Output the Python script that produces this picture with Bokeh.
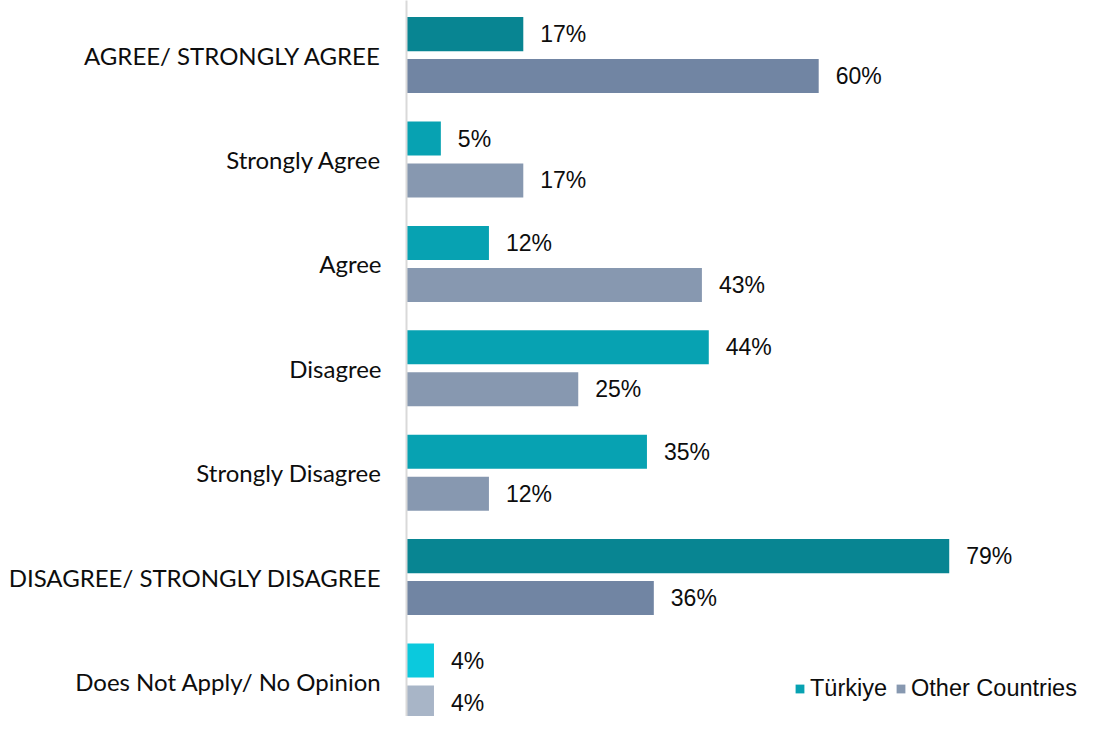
from bokeh.plotting import figure
from bokeh.models import ColumnDataSource, Range1d, FixedTicker, Legend, LegendItem
from bokeh.transform import dodge
from bokeh.embed import file_html
from bokeh.resources import INLINE

categories = ["AGREE/ STRONGLY AGREE", "Strongly Agree", "Agree", "Disagree",
              "Strongly Disagree", "DISAGREE/ STRONGLY DISAGREE", "Does Not Apply/ No Opinion"]
turkiye = [17, 5, 12, 44, 35, 79, 4]
other = [60, 17, 43, 25, 12, 36, 4]
series_names = ["Türkiye", "Other Countries"]

turk_colors = ["#088592", "#07A2B2", "#07A2B2", "#07A2B2", "#07A2B2", "#088592", "#0BC9DD"]
other_colors = ["#7185A3", "#8798B0", "#8798B0", "#8798B0", "#8798B0", "#7185A3", "#A8B5C7"]

pos = list(range(len(categories)))
src_t = ColumnDataSource(dict(y=pos, v=turkiye, c=turk_colors, lbl=[f"{v}%" for v in turkiye]))
src_o = ColumnDataSource(dict(y=pos, v=other, c=other_colors, lbl=[f"{v}%" for v in other]))

W, H = 1079, 716
left = 406
px_per_unit = 6.87
p = figure(width=W, height=H, output_backend="svg", toolbar_location=None,
           x_range=Range1d(0, (W - left) / px_per_unit),
           y_range=Range1d(6.335, -0.523),
           min_border_left=left, min_border_right=0, min_border_top=0, min_border_bottom=0)
p.outline_line_color = None
p.xgrid.visible = False
p.ygrid.visible = False
p.xaxis.visible = False

ax = p.yaxis[0]
ax.ticker = FixedTicker(ticks=pos)
ax.major_label_overrides = {i: c for i, c in enumerate(categories)}
ax.major_tick_line_color = None
ax.minor_tick_line_color = None
ax.axis_line_color = "#D9D9D9"
ax.axis_line_width = 2
ax.major_label_text_font = "Lato"
ax.major_label_text_font_size = "24px"
ax.major_label_text_color = "#0D0D0D"
ax.major_label_standoff = 19

off = 0.201
bh = 0.326
rt = p.hbar(y=dodge("y", -off), right="v", left=0, height=bh, source=src_t,
            fill_color="c", line_color=None)
ro = p.hbar(y=dodge("y", off), right="v", left=0, height=bh, source=src_o,
            fill_color="c", line_color=None)

p.text(x="v", y=dodge("y", -off), text="lbl", source=src_t, x_offset=17,
       text_baseline="middle", text_font_size="23px", text_color="#0D0D0D",
       text_font={"value": "Liberation Sans"})
p.text(x="v", y=dodge("y", off), text="lbl", source=src_o, x_offset=17,
       text_baseline="middle", text_font_size="23px", text_color="#0D0D0D",
       text_font={"value": "Liberation Sans"})

legend = Legend(items=[LegendItem(label=series_names[0], renderers=[rt], index=1),
                       LegendItem(label=series_names[1], renderers=[ro], index=1)],
                orientation="horizontal", location=(388, 14),
                glyph_width=11, glyph_height=11, label_standoff=5, spacing=8,
                padding=0, margin=0, border_line_color=None, background_fill_alpha=0,
                label_text_font="Liberation Sans", label_text_font_size="23.5px",
                label_text_color="#0D0D0D", label_height=24)
p.add_layout(legend)

open("out.html", "w").write(file_html(p, INLINE))
